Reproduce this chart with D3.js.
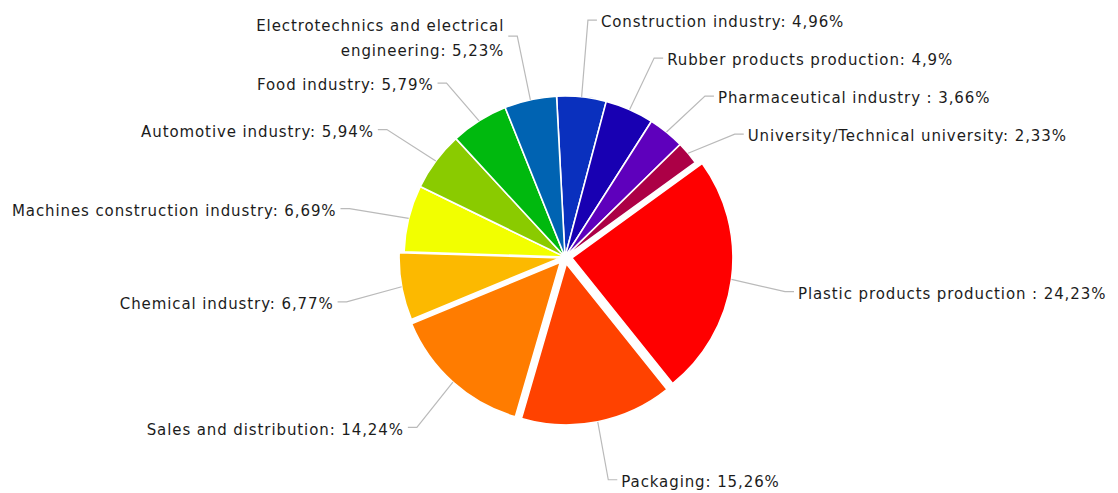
<!DOCTYPE html>
<html>
<head>
<meta charset="utf-8">
<script src="https://cdnjs.cloudflare.com/ajax/libs/d3/7.8.5/d3.min.js"></script>
<style>
  html, body { margin: 0; padding: 0; background: #fff; }
  .lbl { font-family: "DejaVu Sans", sans-serif; font-size: 15px; letter-spacing: 0.9px; fill: #1c1c1c; }
</style>
</head>
<body>
<div id="main"></div>
<script>
// data, clockwise from the top
var sectors = ["Construction industry", "Rubber products production", "Pharmaceutical industry ",
  "University/Technical university", "Plastic products production ", "Packaging",
  "Sales and distribution", "Chemical industry", "Machines construction industry",
  "Automotive industry", "Food industry", "Electrotechnics and electrical\nengineering"];
var shares = [4.96, 4.9, 3.66, 2.33, 24.23, 15.26, 14.24, 6.77, 6.69, 5.94, 5.79, 5.23];

// styles
var colors = ["#0a30be", "#1800b2", "#5e00bc", "#ac0046", "#ff0000", "#ff4200",
  "#ff7c00", "#fcb900", "#f2ff00", "#8acb00", "#00b90e", "#0063b2"];
var pullOut = [0, 0, 0, 0, 7, 7, 7, 5, 0, 0, 0, 0];

var width = 1118, height = 493;
var cx = 565, cy = 257, radius = 161, labelR = 222, labelShift = 5;

var svg = d3.select("#main").append("svg")
  .attr("width", width)
  .attr("height", height);

var g = svg.append("g")
  .attr("transform", "translate(" + cx + "," + cy + ")");

var pie = d3.pie()
  .sort(null)
  .startAngle(-3 * Math.PI / 180)
  .endAngle(357 * Math.PI / 180)
  .value(function(d) { return d; });

var arc = d3.arc().innerRadius(0).outerRadius(radius);
var arcs = pie(shares);

function mid(d) { return (d.startAngle + d.endAngle) / 2; }

g.selectAll(".slice")
  .data(arcs)
  .enter().append("path")
  .attr("class", "slice")
  .attr("d", arc)
  .attr("transform", function(d, i) {
    var a = mid(d);
    return "translate(" + (pullOut[i] * Math.sin(a)) + "," + (-pullOut[i] * Math.cos(a)) + ")";
  })
  .style("fill", function(d, i) { return colors[i]; })
  .style("stroke", "#fff")
  .style("stroke-width", 1.6);

// label layout
var fmt = function(v) { return String(v).replace(".", ","); };
var labels = arcs.map(function(d, i) {
  var a = mid(d);
  var lines = (sectors[i] + ": " + fmt(shares[i]) + "%").split("\n");
  return {
    i: i,
    a: a,
    right: Math.sin(a) >= 0,
    lines: lines,
    h: lines.length == 1 ? 38 : 56,
    sx: (radius + pullOut[i]) * Math.sin(a),
    sy: -(radius + pullOut[i]) * Math.cos(a),
    x: labelR * Math.sin(a),
    y: -labelR * Math.cos(a) + labelShift
  };
});

// push labels apart on each side
[true, false].forEach(function(side) {
  var grp = labels.filter(function(l) { return l.right == side; })
    .sort(function(a, b) { return a.y - b.y; });
  for (var k = 0; k < 200; k++) {
    for (var j = 1; j < grp.length; j++) {
      var need = (grp[j - 1].h + grp[j].h) / 2;
      var over = grp[j - 1].y + need - grp[j].y;
      if (over > 0) {
        grp[j - 1].y -= over / 2;
        grp[j].y += over / 2;
      }
    }
  }
});

var lab = g.selectAll(".label")
  .data(labels)
  .enter().append("g")
  .attr("class", "label");

lab.append("polyline")
  .attr("points", function(l) {
    var ex = l.x + (l.right ? 9 : -9);
    return [[l.sx, l.sy], [l.x, l.y], [ex, l.y]].join(" ");
  })
  .style("fill", "none")
  .style("stroke", "#bababa")
  .style("stroke-width", 1.2);

lab.append("text")
  .attr("class", "lbl")
  .attr("y", function(l) { return l.y - (l.lines.length - 1) * 12.5 + 2; })
  .style("text-anchor", function(l) { return l.right ? "start" : "end"; })
  .each(function(l) {
    var t = d3.select(this);
    l.lines.forEach(function(s, k) {
      t.append("tspan")
        .attr("x", l.x + (l.right ? 13 : -13))
        .attr("dy", k == 0 ? "0.35em" : 25)
        .text(s);
    });
  });
</script>
</body>
</html>
